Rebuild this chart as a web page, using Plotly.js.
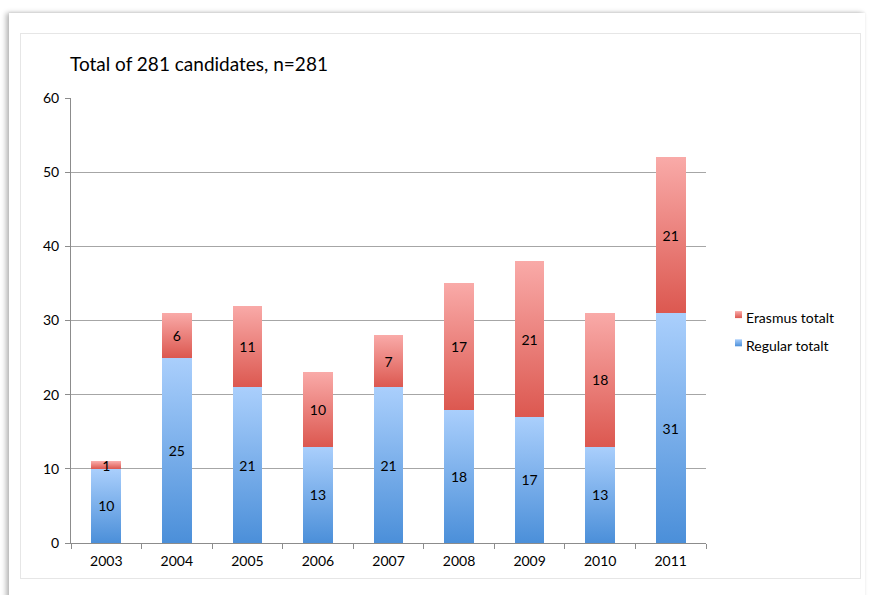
<!DOCTYPE html>
<html>
<head>
<meta charset="utf-8">
<script src="https://cdn.plot.ly/plotly-3.0.1.min.js"></script>
<style>
  html, body { margin:0; padding:0; background:#fff; width:870px; height:595px; overflow:hidden; }
  #card { position:absolute; left:9px; top:13px; width:856px; height:590px; background:#fff;
          box-shadow:-3px 0 5px rgba(0,0,0,0.28), 0 -1px 2px rgba(0,0,0,0.06); }
  #panel { position:absolute; left:20px; top:33px; width:839px; height:544px; border:1px solid #e6e6e6; background:#fff; }
  #plot { position:absolute; left:0; top:0; width:870px; height:595px; }
</style>
</head>
<body>
<div id="card"></div>
<div id="panel"></div>
<div id="plot"></div>
<script>
const years = ["2003","2004","2005","2006","2007","2008","2009","2010","2011"];
const regular = [10, 25, 21, 13, 21, 18, 17, 13, 31];
const erasmus = [1, 6, 11, 10, 7, 17, 21, 18, 21];
const yTicks = [0, 10, 20, 30, 40, 50, 60];

const FONT = "Lato, 'Open Sans', sans-serif";

const traces = [
  {
    type: "bar", name: "Regular totalt", legendgroup: "reg", legendrank: 2, x: years, y: regular,
    text: regular.map(String), textposition: "inside", insidetextanchor: "middle", textangle: 0,
    constraintext: "none", textfont: {color: "#000", size: 14, family: FONT},
    marker: {color: "#79aee9", line: {width: 0}}, hoverinfo: "skip"
  },
  {
    type: "bar", name: "Erasmus totalt", legendgroup: "era", legendrank: 1, x: years, y: erasmus,
    text: erasmus.map(String), textposition: "inside", insidetextanchor: "middle", textangle: 0,
    constraintext: "none", textfont: {color: "#000", size: 14, family: FONT},
    marker: {color: "#eb7f7a", line: {width: 0}}, hoverinfo: "skip"
  }
];

const layout = {
  width: 870, height: 595,
  paper_bgcolor: "rgba(0,0,0,0)", plot_bgcolor: "rgba(0,0,0,0)",
  margin: {l: 71, r: 164, t: 98, b: 52},
  barmode: "stack", bargap: 0.58,
  font: {family: FONT, size: 14, color: "#000"},
  title: {text: "Total of 281 candidates, n=281", x: 70/870, xanchor: "left", xref: "container",
          y: 1 - 64/595, yanchor: "middle", yref: "container",
          font: {family: FONT, size: 19, color: "#000"}},
  xaxis: {type: "category", showgrid: false, showline: true, linecolor: "#8c8c8c", linewidth: 1,
          ticks: "outside", tickson: "boundaries", ticklen: 5, tickcolor: "#8c8c8c",
          ticklabelstandoff: 5,
          tickfont: {family: FONT, size: 14, color: "#000"}, fixedrange: true},
  yaxis: {range: [0, 60], tickvals: yTicks, ticktext: yTicks.map(String),
          showgrid: true, gridcolor: "#a6a6a6", gridwidth: 1, zeroline: false,
          showline: true, linecolor: "#8c8c8c", linewidth: 1,
          ticks: "outside", ticklen: 5, tickcolor: "#8c8c8c", ticklabelstandoff: 3,
          tickfont: {family: FONT, size: 14, color: "#000"}, fixedrange: true},
  legend: {x: 706/870, xanchor: "left", xref: "container", y: 1 - 302/595, yanchor: "top", yref: "container",
           traceorder: "grouped", font: {family: FONT, size: 14, color: "#000"},
           itemwidth: 30, tracegroupgap: 7, bgcolor: "rgba(0,0,0,0)"},
  showlegend: true
};

Plotly.newPlot("plot", traces, layout, {displayModeBar: false, staticPlot: true}).then(function (gd) {
  const svg = gd.querySelector("svg.main-svg");
  const ns = "http://www.w3.org/2000/svg";
  let defs = svg.querySelector("defs");
  if (!defs) { defs = document.createElementNS(ns, "defs"); svg.insertBefore(defs, svg.firstChild); }
  function grad(id, top, bottom) {
    const g = document.createElementNS(ns, "linearGradient");
    g.setAttribute("id", id);
    g.setAttribute("x1", "0"); g.setAttribute("y1", "0"); g.setAttribute("x2", "0"); g.setAttribute("y2", "1");
    const s1 = document.createElementNS(ns, "stop"); s1.setAttribute("offset", "0"); s1.setAttribute("stop-color", top);
    const s2 = document.createElementNS(ns, "stop"); s2.setAttribute("offset", "1"); s2.setAttribute("stop-color", bottom);
    g.appendChild(s1); g.appendChild(s2); defs.appendChild(g);
  }
  grad("gBlue", "#aacffc", "#4b8fd9");
  grad("gRed", "#f9aaa8", "#dc5850");
  const ids = ["gBlue", "gRed"];
  gd.querySelectorAll(".barlayer .trace.bars").forEach(function (tr, i) {
    tr.querySelectorAll("path").forEach(function (p) { p.style.fill = "url(#" + ids[i] + ")"; });
  });
  gd.querySelectorAll(".legend .traces").forEach(function (tr) {
    const name = tr.textContent;
    const id = name.indexOf("Erasmus") >= 0 ? "gRed" : "gBlue";
    tr.querySelectorAll(".legendpoints path").forEach(function (p) {
      p.setAttribute("d", "M-3,-3.5h7v7h-7z");
      p.setAttribute("transform", "translate(32,-3)");
      p.style.fill = "url(#" + id + ")";
    });
  });
});
</script>
</body>
</html>
